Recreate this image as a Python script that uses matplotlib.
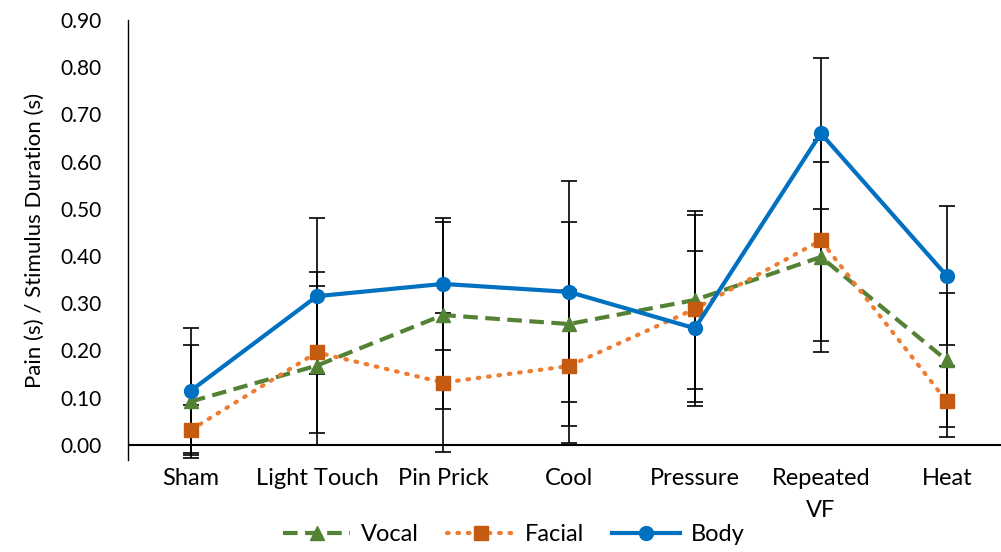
import matplotlib.pyplot as plt
import numpy as np

plt.rcParams['font.family'] = ['Lato', 'DejaVu Sans']

stimuli = ['Sham', 'Light Touch', 'Pin Prick', 'Cool', 'Pressure', 'Repeated\nVF', 'Heat']

vocal = [0.092, 0.168, 0.275, 0.256, 0.307, 0.398, 0.179]
vocal_err = [0.120, 0.169, 0.198, 0.216, 0.189, 0.202, 0.142]

facial = [0.032, 0.196, 0.132, 0.167, 0.288, 0.433, 0.092]
facial_err = [0.053, 0.171, 0.148, 0.162, 0.198, 0.213, 0.076]

body = [0.115, 0.315, 0.341, 0.324, 0.247, 0.660, 0.358]
body_err = [0.132, 0.165, 0.139, 0.234, 0.164, 0.160, 0.147]

x = np.arange(len(stimuli))

fig = plt.figure(figsize=(10.01, 5.52), dpi=100)
ax = fig.add_axes([128 / 1001, 92 / 552, 873 / 1001, 440 / 552])

# error bars first so the series lines sit on top
err_kw = dict(fmt='none', ecolor='black', elinewidth=1.2, capsize=6, capthick=1.2, zorder=2)
ax.errorbar(x, vocal, yerr=vocal_err, **err_kw)
ax.errorbar(x, facial, yerr=facial_err, **err_kw)
ax.errorbar(x, body, yerr=body_err, **err_kw)

ax.plot(x, vocal, color='#548235', lw=3, ls=(0, (3.5, 1.8)), marker='^', ms=10,
        label='Vocal', zorder=3)
ax.plot(x, facial, color='#ED7D31', lw=3, ls=(0, (0.4, 2.1)), dash_capstyle='round',
        marker='s', ms=10, mfc='#C55A11', mec='#C55A11', label='Facial', zorder=4)
ax.plot(x, body, color='#0070C0', lw=3, marker='o', ms=10, label='Body', zorder=5)

ax.axhline(0, color='black', lw=1.5, zorder=1)

ax.set_xlim(-0.5, 6.43)
ax.set_ylim(-0.032, 0.9)
ax.set_yticks(np.arange(0, 0.91, 0.1))
ax.set_yticklabels([f'{v:.2f}' for v in np.arange(0, 0.91, 0.1)])
ax.set_xticks(x)
ax.set_xticklabels(stimuli, va='top', linespacing=1.6)

for s in ['top', 'right', 'bottom']:
    ax.spines[s].set_visible(False)
ax.spines['left'].set_linewidth(1.0)
ax.tick_params(axis='y', length=0, labelsize=15, pad=19)
ax.tick_params(axis='x', length=0, labelsize=17, pad=6)

ax.set_ylabel('Pain (s) / Stimulus Duration (s)', fontsize=16, labelpad=11)

ax.legend(loc='center', bbox_to_anchor=(0.4416, -0.17), ncol=3, frameon=False,
          fontsize=17, handlelength=2.85, columnspacing=1.2, handletextpad=0.45,
          borderpad=0)

fig.savefig('out.png', dpi=100)
